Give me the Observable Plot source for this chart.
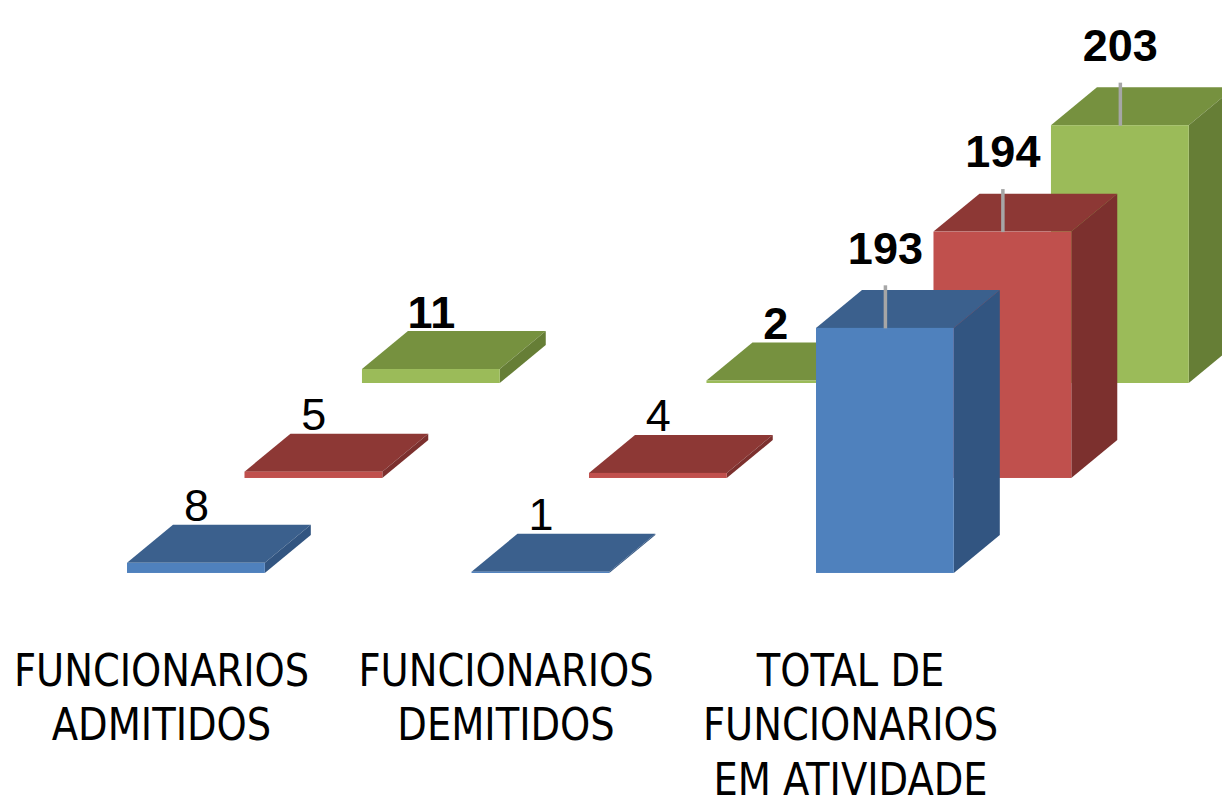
<!DOCTYPE html>
<html><head><meta charset="utf-8">
<script src="https://cdn.jsdelivr.net/npm/d3@7"></script>
<script src="https://cdn.jsdelivr.net/npm/@observablehq/plot@0.6"></script>
<style>html,body{margin:0;padding:0;background:#fff;overflow:hidden}</style>
</head><body><div id="chart"></div>
<script>
// ---- data ----
const categories = ["FUNCIONARIOS\nADMITIDOS", "FUNCIONARIOS\nDEMITIDOS", "TOTAL DE\nFUNCIONARIOS\nEM ATIVIDADE"];
const seriesKeys = ["azul", "vermelho", "verde"];
const blueValues = [8, 1, 193];
const redValues = [5, 4, 194];
const greenValues = [11, 2, 203];
const seriesValues = [blueValues, redValues, greenValues];

// ---- style ----
const frontColors = ["#4f81bd", "#c0504d", "#9bbb59"];
const topColors = ["#3b608d", "#8d3835", "#76913f"];
const sideColors = ["#325581", "#7c302e", "#667e36"];

// ---- faux 3D layout (x in category units, y in value units) ----
const barW = 0.4, seriesDX = 0.341, seriesDY = 74.8, depthDX = 0.1335, depthDY = 29.9;
const labelShift = 0.0987;

const bars = [];
seriesValues.forEach((vals, s) => vals.forEach((v, i) => {
  const x0 = i + s * seriesDX, x1 = x0 + barW, yb = s * seriesDY, yt = yb + v;
  bars.push({s, i, v, x0, x1, yb, yt, id: seriesKeys[s] + i});
}));

const marks = [];
for (const s of [2, 1, 0]) {
  const B = bars.filter(b => b.s === s);
  const tops = B.flatMap(b => [
    {id: b.id, y: b.yt, xa: b.x0, xb: b.x1},
    {id: b.id, y: b.yt + depthDY, xa: b.x0 + depthDX, xb: b.x1 + depthDX}
  ]);
  const sides = B.flatMap(b => [
    {id: b.id, x: b.x1, ya: b.yb, yb: b.yt},
    {id: b.id, x: b.x1 + depthDX, ya: b.yb + depthDY, yb: b.yt + depthDY}
  ]);
  marks.push(Plot.areaX(tops, {y: "y", x1: "xa", x2: "xb", z: "id", fill: topColors[s]}));
  marks.push(Plot.areaY(sides, {x: "x", y1: "ya", y2: "yb", z: "id", fill: sideColors[s]}));
  marks.push(Plot.rect(B, {x1: "x0", x2: "x1", y1: "yb", y2: "yt", fill: frontColors[s]}));
}

const withLeader = b => b.v > 100;
const labelY = b => b.yt + depthDY + (withLeader(b) ? 32.5 : 14.5);
const isBold = b => b.s === 2 || b.i === 2;

marks.push(Plot.link(bars.filter(withLeader), {
  x1: b => (b.x0 + b.x1) / 2, x2: b => (b.x0 + b.x1) / 2,
  y1: "yt", y2: b => b.yt + 33.9, stroke: "#a6a6a6", strokeWidth: 3.5
}));

const numFont = "'Liberation Sans', Arial, sans-serif";
marks.push(Plot.text(bars.filter(b => !isBold(b)), {
  x: b => (b.x0 + b.x1) / 2, y: labelY, text: b => String(b.v),
  fontSize: 45, fontFamily: numFont, fill: "#000", lineAnchor: "middle"
}));
marks.push(Plot.text(bars.filter(isBold), {
  x: b => (b.x0 + b.x1) / 2, y: labelY, text: b => String(b.v),
  fontSize: 45, fontWeight: "bold", fontFamily: numFont, fill: "#000", lineAnchor: "middle"
}));

marks.push(Plot.text(categories, {
  x: (d, i) => i + labelShift, y: () => 0, dy: 73.5, text: d => d,
  lineAnchor: "top", lineHeight: 1.21, fontSize: 45,
  fontFamily: "'DejaVu Sans Condensed', 'DejaVu Sans', sans-serif", fill: "#000",
  className: "catlabel"
}));

const chart = Plot.plot({
  width: 1222, height: 807, margin: 0,
  x: {type: "linear", domain: [-0.3687, 3.1785], axis: null},
  y: {type: "linear", domain: [-184.3, 451.2], axis: null},
  style: {background: "#fff"},
  marks
});
document.getElementById("chart").append(chart);
// narrow the category labels horizontally (condensed look of the original)
d3.select(chart).selectAll("g.catlabel text").each(function () {
  const t = this.getAttribute("transform") || "";
  this.setAttribute("transform", t + " scale(0.95,1)");
});
</script>
</body></html>
